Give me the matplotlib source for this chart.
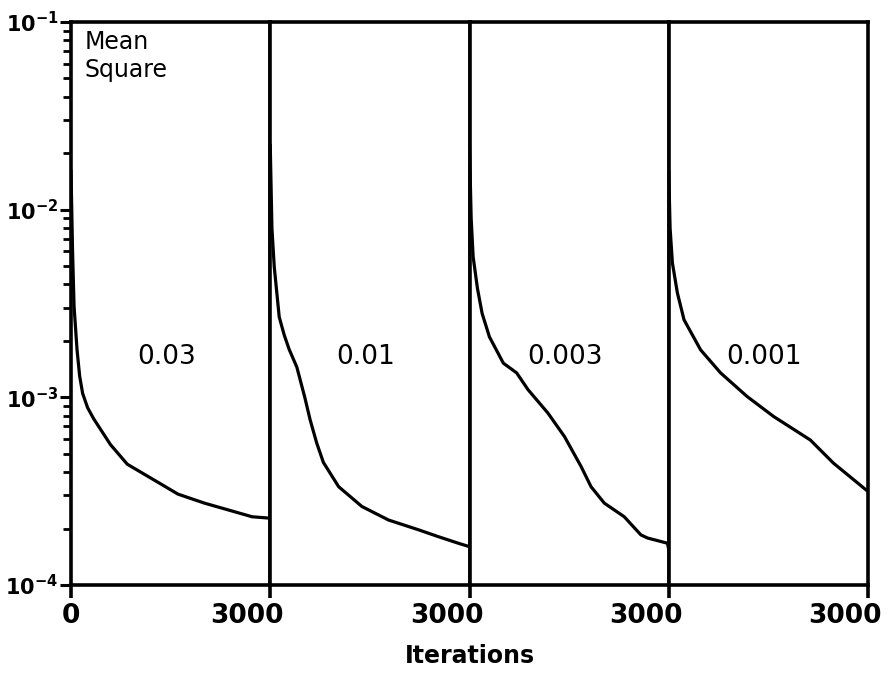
import numpy as np
import matplotlib
matplotlib.use("Agg")
import matplotlib.pyplot as plt
from matplotlib.transforms import ScaledTranslation

# step sizes, one panel each
rates = ["0.03", "0.01", "0.003", "0.001"]

# iterations / mean square error
it1 = [0, 23, 46, 91, 130, 175, 250, 340, 594, 848, 1355, 1610, 2010, 2371, 2726, 3000]
ms1 = [1.6e-2, 6.1e-3, 3.05e-3, 1.79e-3, 1.3e-3, 1.05e-3, 8.8e-4, 7.7e-4, 5.6e-4,
       4.4e-4, 3.45e-4, 3.05e-4, 2.73e-4, 2.51e-4, 2.31e-4, 2.27e-4]

it2 = [0, 25, 60, 135, 210, 285, 400, 520, 600, 700, 800, 1030, 1380, 1780, 2230,
       2530, 2830, 3000]
ms2 = [2.2e-2, 8e-3, 4.97e-3, 2.68e-3, 2.15e-3, 1.8e-3, 1.45e-3, 1.0e-3, 7.6e-4,
       5.7e-4, 4.5e-4, 3.34e-4, 2.62e-4, 2.22e-4, 1.97e-4, 1.81e-4, 1.67e-4, 1.6e-4]

it3 = [0, 25, 55, 120, 190, 300, 510, 710, 880, 1180, 1430, 1680, 1830, 2030,
       2330, 2580, 2680, 2980, 3000]
ms3 = [2.2e-2, 9e-3, 5.6e-3, 3.8e-3, 2.8e-3, 2.1e-3, 1.52e-3, 1.35e-3, 1.1e-3,
       8.25e-4, 6.18e-4, 4.28e-4, 3.34e-4, 2.73e-4, 2.31e-4, 1.85e-4, 1.78e-4,
       1.67e-4, 1.55e-4]

it4 = [0, 20, 55, 130, 230, 480, 780, 1180, 1580, 2130, 2480, 3000]
ms4 = [1.6e-2, 8e-3, 5.2e-3, 3.6e-3, 2.59e-3, 1.79e-3, 1.35e-3, 1.01e-3, 7.9e-4,
       5.93e-4, 4.46e-4, 3.15e-4]

iters = [it1, it2, it3, it4]
errs = [ms1, ms2, ms3, ms4]

plt.rcParams['font.family'] = ['DejaVu Sans']
plt.rcParams['mathtext.fontset'] = 'dejavusans'

fig = plt.figure(figsize=(8.94, 6.85), dpi=100)
left, right, bottom, top = 71/894, 868/894, 100/685, 663/685
w = (right - left) / 4

axes = []
for k in range(4):
    ax = fig.add_axes([left + k*w, bottom, w, top - bottom])
    axes.append(ax)
    ax.plot(iters[k], errs[k], color='black', lw=2.3, solid_joinstyle='round')
    ax.set_yscale('log')
    ax.set_ylim(1e-4, 1e-1)
    ax.set_xlim(0, 3000)
    for s in ax.spines.values():
        s.set_linewidth(2.6)
    ax.text(0.48, 0.405, rates[k], transform=ax.transAxes, ha='center', va='center',
            fontsize=19)
    if k == 0:
        ax.set_xticks([0, 3000])
        ax.set_xticklabels(['0', '3000'])
    else:
        ax.set_xticks([3000])
        ax.set_xticklabels(['3000'])
    ax.tick_params(axis='x', direction='out', length=9, width=2.6, labelsize=19, pad=4)
    for lab in ax.get_xticklabels():
        lab.set_fontweight('bold')
        if lab.get_text() == '3000':
            lab.set_transform(lab.get_transform() + ScaledTranslation(-0.23, 0, fig.dpi_scale_trans))
    if k == 0:
        ax.set_yticks([1e-4, 1e-3, 1e-2, 1e-1])
        ax.set_yticklabels([r'$\mathbf{10^{-4}}$', r'$\mathbf{10^{-3}}$',
                            r'$\mathbf{10^{-2}}$', r'$\mathbf{10^{-1}}$'])
        ax.tick_params(axis='y', which='major', direction='out', length=8, width=2.2,
                       labelsize=15, pad=1)
        ax.tick_params(axis='y', which='minor', direction='out', length=6, width=2.0)
        ax.text(0.07, 0.985, 'Mean\nSquare', transform=ax.transAxes, ha='left', va='top',
                fontsize=17, linespacing=1.2)
    else:
        ax.tick_params(axis='y', which='both', left=False, labelleft=False)

fig.text((left + right)/2, 0.043, 'Iterations', ha='center', va='center',
         fontsize=17, fontweight='bold')

fig.savefig('out.png', dpi=100)
